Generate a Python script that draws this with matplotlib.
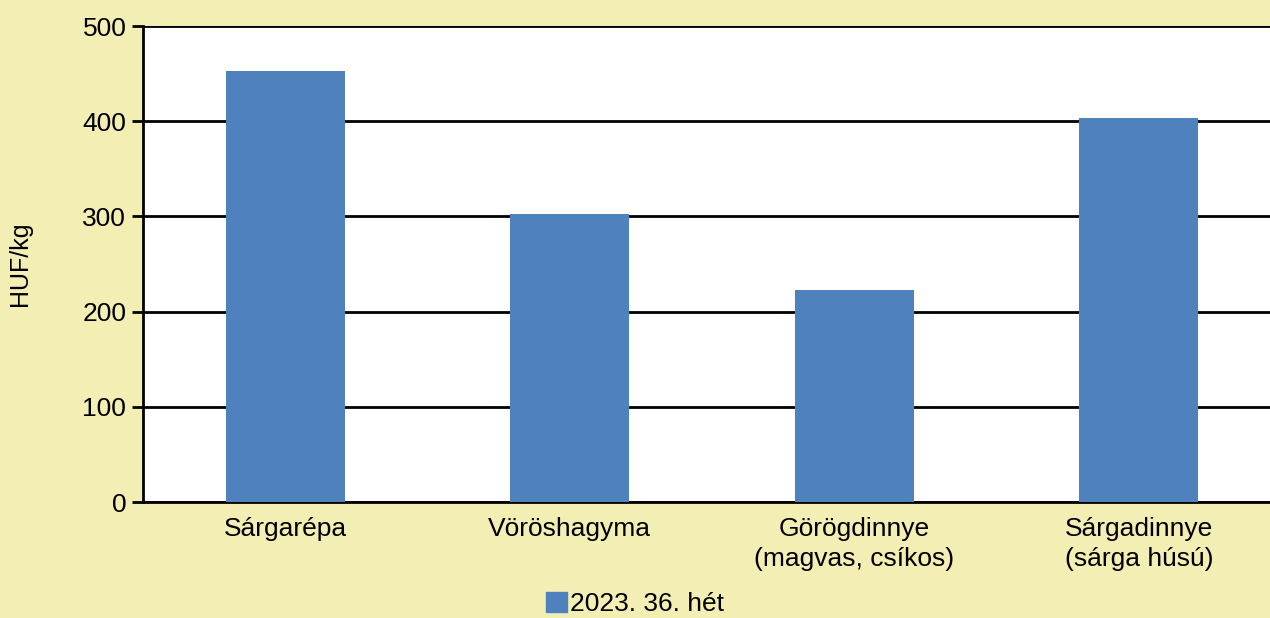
import matplotlib.pyplot as plt
from matplotlib.patches import Patch

categories = ["Sárgarépa", "Vöröshagyma", "Görögdinnye\n(magvas, csíkos)", "Sárgadinnye\n(sárga húsú)"]
prices = [453, 303, 223, 403]
series_name = "2023. 36. hét"

plt.rcParams['font.family'] = ['Liberation Sans', 'DejaVu Sans']

bg = "#f3eeb3"
bar_color = "#4f81bd"

fig = plt.figure(figsize=(12.7, 6.18), dpi=100, facecolor=bg)
ax = fig.add_axes([143 / 1270, 116 / 618, 1138 / 1270, 476 / 618])
ax.set_facecolor("white")

x = range(len(categories))
ax.bar(x, prices, width=0.42, color=bar_color, zorder=3)

ax.set_xlim(-0.5, 3.5)
ax.set_ylim(0, 500)
ax.set_yticks(range(0, 501, 100))
ax.yaxis.grid(True, color="black", linewidth=2, zorder=1)
ax.set_axisbelow(True)

ax.set_xticks(list(x))
ax.set_xticklabels(categories, fontsize=19, linespacing=1.3)
ax.tick_params(axis="x", length=0, pad=11)
ax.tick_params(axis="y", labelsize=19, length=8, width=2, direction="out", pad=4)

for s in ["top", "right"]:
    ax.spines[s].set_visible(False)
ax.spines["left"].set_linewidth(2)
ax.spines["bottom"].set_linewidth(2)

ax.set_ylabel("HUF/kg", fontsize=18)
ax.yaxis.set_label_coords(-111 / 1138, 0.5)

fig.legend(handles=[Patch(color=bar_color, label=series_name)], loc="lower center",
           bbox_to_anchor=(0.5, -0.036), frameon=False, fontsize=19,
           handlelength=0.8, handleheight=0.8, handletextpad=0.1)

fig.savefig("out.png", dpi=100, facecolor=bg)
